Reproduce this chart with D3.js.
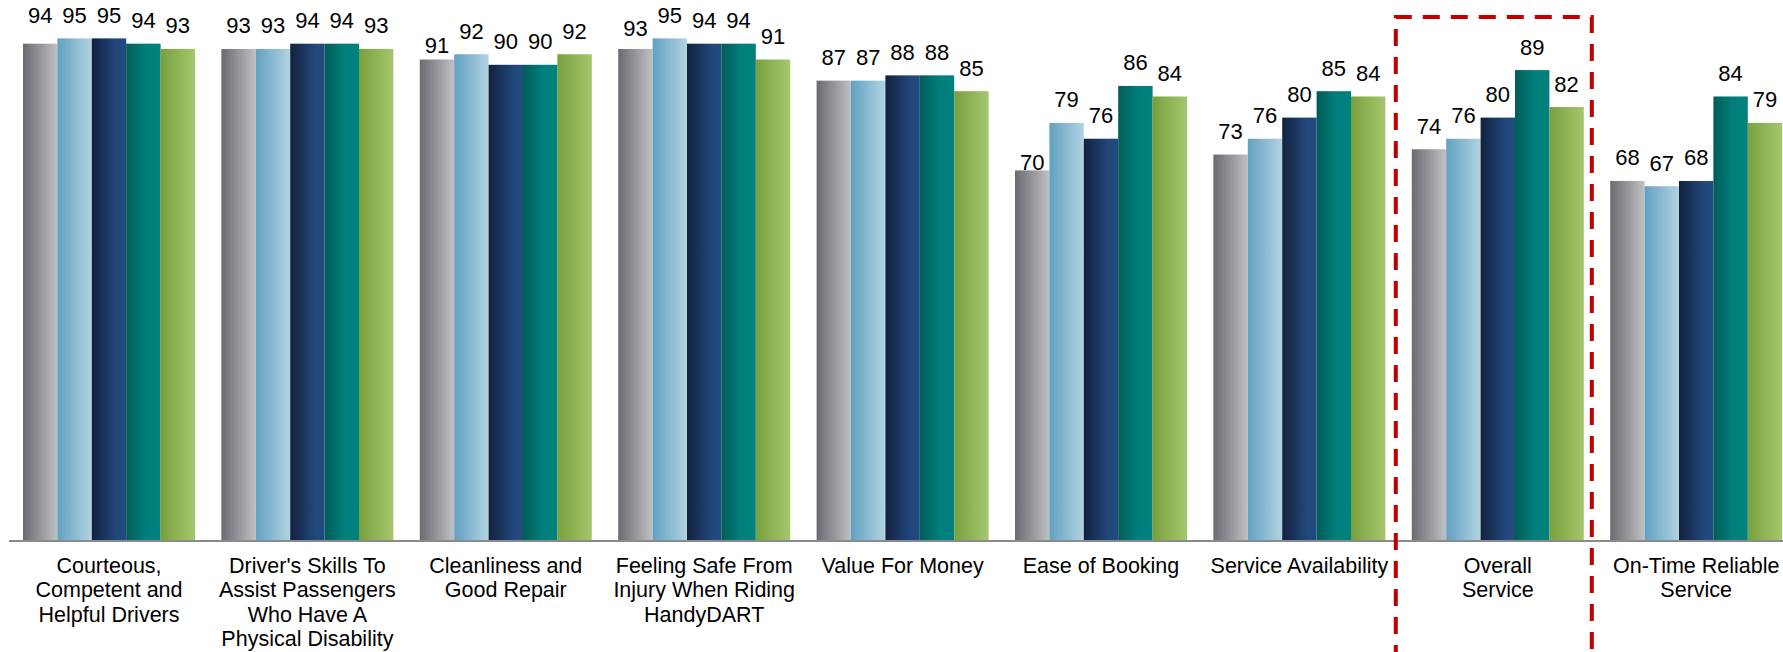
<!DOCTYPE html>
<html>
<head>
<meta charset="utf-8">
<script src="https://cdn.jsdelivr.net/npm/d3@7"></script>
<style>
  html, body { margin: 0; padding: 0; background: #fff; }
  svg { display: block; font-family: "Liberation Sans", Arial, sans-serif; }
</style>
</head>
<body>
<svg id="chart"></svg>
<script>
// categories (line breaks as in the original axis labels)
const categories = [
  "Courteous,\nCompetent and\nHelpful Drivers",
  "Driver's Skills To\nAssist Passengers\nWho Have A\nPhysical Disability",
  "Cleanliness and\nGood Repair",
  "Feeling Safe From\nInjury When Riding\nHandyDART",
  "Value For Money",
  "Ease of Booking",
  "Service Availability",
  "Overall\nService",
  "On-Time Reliable\nService"
];
const seriesNames = ["Series 1", "Series 2", "Series 3", "Series 4", "Series 5"];

const series1 = [94, 93, 91, 93, 87, 70, 73, 74, 68];
const series2 = [95, 93, 92, 95, 87, 79, 76, 76, 67];
const series3 = [95, 94, 90, 94, 88, 76, 80, 80, 68];
const series4 = [94, 94, 90, 94, 88, 86, 85, 89, 84];
const series5 = [93, 93, 92, 91, 85, 84, 84, 82, 79];
const allSeries = [series1, series2, series3, series4, series5];

const highlighted = "Overall\nService";

// gradient stops per series, dark on the left to light on the right
const gradients = [
  [["0%", "#6a6b70"], ["100%", "#c0c1c5"]],
  [["0%", "#62a1c0"], ["100%", "#b2d3e3"]],
  [["0%", "#12223d"], ["70%", "#21467a"], ["100%", "#234b7e"]],
  [["0%", "#005c58"], ["55%", "#007e7a"], ["100%", "#00827e"]],
  [["0%", "#78a03e"], ["100%", "#a6c76d"]]
];

// hand-moved data labels in the original (group-series : px down)
const labelNudge = { "0-0": -5, "2-0": 9, "3-0": 3, "5-0": 15 };

const width = 1783, height = 652;
const baseY = 540;

const svg = d3.select("#chart").attr("width", width).attr("height", height);

const defs = svg.append("defs");
gradients.forEach((stops, i) => {
  const g = defs.append("linearGradient")
    .attr("id", "grad" + i)
    .attr("x1", 0).attr("x2", 1).attr("y1", 0).attr("y2", 0);
  stops.forEach(s => g.append("stop").attr("offset", s[0]).attr("stop-color", s[1]));
});

const x0 = d3.scaleBand()
  .domain(categories)
  .range([9.8, 9.8 + 9 * 198.4])
  .paddingInner(0.133)
  .paddingOuter(0.0665);

const x1 = d3.scaleBand()
  .domain(seriesNames)
  .range([0, x0.bandwidth()]);

const y = d3.scaleLinear().domain([0, 100]).range([baseY, 12]);

const rows = categories.map((c, ci) => ({
  cat: c,
  ci: ci,
  vals: seriesNames.map((s, si) => ({ s: s, si: si, v: allSeries[si][ci], ci: ci }))
}));

const groups = svg.selectAll("g.group")
  .data(rows)
  .enter()
  .append("g")
  .attr("class", "group")
  .attr("transform", d => "translate(" + x0(d.cat) + ",0)");

groups.selectAll("rect")
  .data(d => d.vals)
  .enter()
  .append("rect")
  .attr("x", d => x1(d.s))
  .attr("y", d => y(d.v))
  .attr("width", x1.bandwidth())
  .attr("height", d => baseY - y(d.v))
  .attr("fill", d => "url(#grad" + d.si + ")");

groups.selectAll("text.val")
  .data(d => d.vals)
  .enter()
  .append("text")
  .attr("class", "val")
  .attr("x", d => x1(d.s) + x1.bandwidth() / 2)
  .attr("y", d => y(d.v) - 15.5 + (labelNudge[d.ci + "-" + d.si] || 0))
  .attr("text-anchor", "middle")
  .style("font-size", "22px")
  .style("fill", "#000")
  .text(d => d.v);

// category axis line
svg.append("line")
  .attr("x1", 9).attr("x2", width)
  .attr("y1", baseY + 1).attr("y2", baseY + 1)
  .attr("stroke", "#8a8a8a")
  .attr("stroke-width", 2);

// category labels
const catLabels = svg.selectAll("text.cat")
  .data(categories)
  .enter()
  .append("text")
  .attr("class", "cat")
  .attr("text-anchor", "middle")
  .style("font-size", "21.5px")
  .style("fill", "#000")
  .attr("transform", d => "translate(" + (x0(d) + x0.bandwidth() / 2) + ",573)");

catLabels.selectAll("tspan")
  .data(d => d.split("\n"))
  .enter()
  .append("tspan")
  .attr("x", 0)
  .attr("y", (d, i) => i * 24.3)
  .text(d => d);

// dashed highlight box around the overall score
const hx = x0(highlighted);
svg.append("path")
  .attr("d", "M" + (hx - 16) + "," + (height + 10) +
             "V17H" + (hx + x0.bandwidth() + 8) + "V" + (height + 10))
  .attr("fill", "none")
  .attr("stroke", "#c00000")
  .attr("stroke-width", 4)
  .attr("stroke-dasharray", "17,11");
</script>
</body>
</html>
